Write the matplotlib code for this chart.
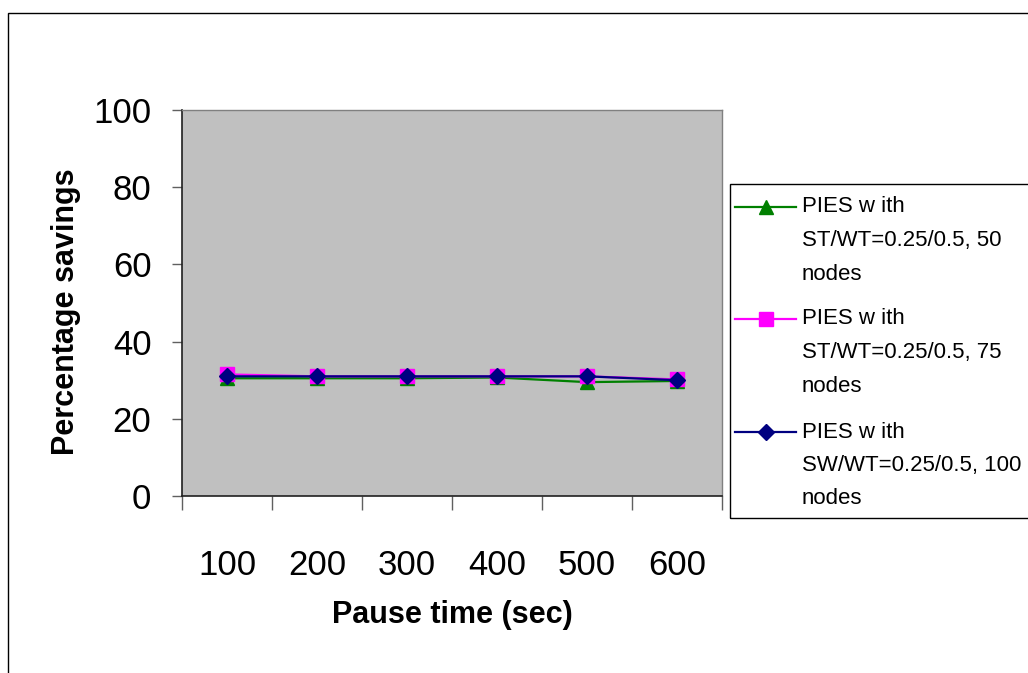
import matplotlib
matplotlib.use("Agg")
import matplotlib.pyplot as plt
from matplotlib.lines import Line2D
from matplotlib.patches import Rectangle
from matplotlib.ticker import FixedLocator

plt.rcParams["font.family"] = ["Liberation Sans", "DejaVu Sans"]

# 数据
pause_time = ["100", "200", "300", "400", "500", "600"]
nodes_50 = [30.5, 30.5, 30.5, 30.7, 29.5, 29.8]
nodes_75 = [31.5, 31.0, 31.0, 31.0, 31.0, 30.2]
nodes_100 = [31.0, 31.0, 31.0, 31.0, 31.0, 30.0]

labels = [
    "PIES w ith\nST/WT=0.25/0.5, 50\nnodes",
    "PIES w ith\nST/WT=0.25/0.5, 75\nnodes",
    "PIES w ith\nSW/WT=0.25/0.5, 100\nnodes",
]
colors = ["#008000", "#FF00FF", "#000080"]
markers = ["^", "s", "D"]
msizes = [10, 9.5, 8.5]

W, H = 1028, 673
fig = plt.figure(figsize=(W / 100, H / 100), dpi=100)

# 外边框
fig.add_artist(Rectangle((8 / W, -0.1), 1.2, 1 - 13 / H + 0.1, transform=fig.transFigure,
                         fill=False, edgecolor="black", linewidth=1))

ax = fig.add_axes([182 / W, 1 - 496 / H, 540 / W, 386 / H])
ax.set_facecolor("#C0C0C0")

x = list(range(len(pause_time)))
for values, c, m, ms in zip([nodes_50, nodes_75, nodes_100], colors, markers, msizes):
    ax.plot(x, values, color=c, marker=m, markersize=ms, linewidth=1.6,
            markeredgecolor=c, markerfacecolor=c)

ax.set_xlim(-0.5, len(pause_time) - 0.5)
ax.set_ylim(0, 100)
ax.set_yticks(range(0, 101, 20))
ax.tick_params(axis="y", direction="out", length=7, width=1, color="#606060",
               labelsize=25, pad=15)

# 类目之间的刻度线，标签放在类目中心
ax.xaxis.set_major_locator(FixedLocator([i - 0.5 for i in range(len(pause_time) + 1)]))
ax.xaxis.set_minor_locator(FixedLocator(x))
ax.set_xticklabels([], minor=False)
ax.set_xticklabels(pause_time, minor=True)
ax.tick_params(axis="x", which="major", direction="out", length=10, width=1, color="#606060")
ax.tick_params(axis="x", which="minor", length=0, labelsize=25, pad=38)

for side in ["top", "right"]:
    ax.spines[side].set_color("#808080")
    ax.spines[side].set_linewidth(1)
for side in ["left", "bottom"]:
    ax.spines[side].set_color("#202020")
    ax.spines[side].set_linewidth(1.2)

ax.set_ylabel("Percentage savings", fontsize=22, fontweight="bold")
ax.yaxis.set_label_coords((81 - 182) / 540, (496 - 312) / 386)
ax.set_xlabel("Pause time (sec)", fontsize=22, fontweight="bold")
ax.xaxis.set_label_coords(0.5, (496 - 600) / 386)

# 图例（手动排版，标记对齐第一行）
fig.add_artist(Rectangle((730 / W, 1 - 518 / H), 0.5, (518 - 184) / H,
                         transform=fig.transFigure, fill=False,
                         edgecolor="black", linewidth=1))
entry_top = [207, 319, 432]
for label, c, m, ms, y0 in zip(labels, colors, markers, msizes, entry_top):
    fig.add_artist(Line2D([735 / W, 796 / W], [1 - y0 / H] * 2, transform=fig.transFigure,
                          color=c, linewidth=1.6))
    fig.add_artist(Line2D([766 / W], [1 - y0 / H], transform=fig.transFigure,
                          color=c, marker=m, markersize=ms, markeredgecolor=c))
    for i, line in enumerate(label.split("\n")):
        fig.text(802 / W, 1 - (y0 + i * 33.5) / H, line, fontsize=16,
                 ha="left", va="center")

fig.savefig("out.png", dpi=100)
